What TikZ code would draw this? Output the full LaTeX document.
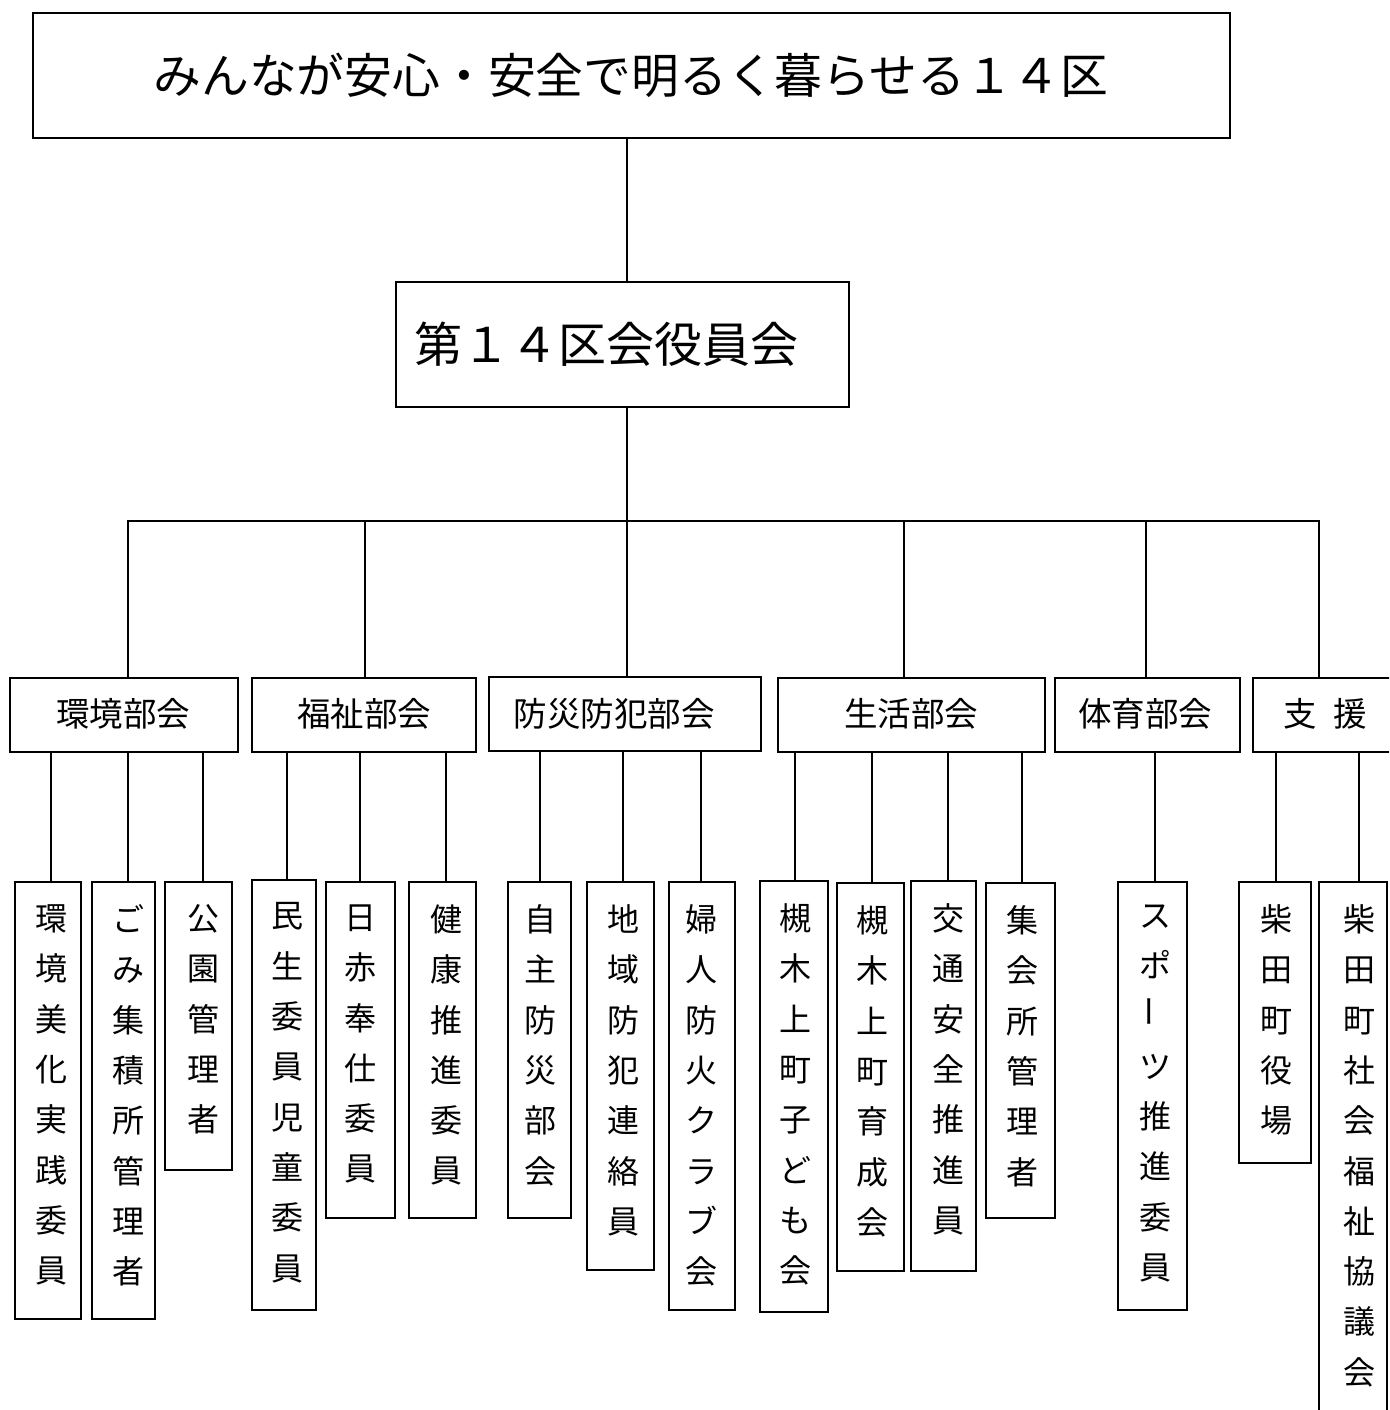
\documentclass[tikz,border=0pt]{standalone}
\usepackage{graphicx}
\usepackage{fontspec}
\setmainfont{Noto Sans CJK JP}
\tikzset{
  ln/.style={line width=2pt},
  bx/.style={draw, line width=2pt, inner sep=0pt, rectangle},
  vt/.style={inner sep=0pt, align=center, anchor=north, font=\fontsize{32pt}{50.3pt}\selectfont},
  dt/.style={inner sep=0pt, font=\fontsize{33.5pt}{40pt}\selectfont},
}
\newcommand\mkbox[5]{\node[bx, minimum width={(#4)-(#2)}, minimum height={(#5)-(#3)}] (#1) at ({((#2)+(#4))/2},{((#3)+(#5))/2}) {};}
\newcommand\mkleaf[7]{\mkbox{#1}{#2}{#3}{#4}{#5}\node[vt] (#1t) at (#6,{#3+22.5}) {#7};}
\newcommand\conn[3]{\draw[ln] (#1.south -| #3,0) -- (#2.north -| #3,0);}
\begin{document}
\begin{tikzpicture}[x=1pt,y=-1pt]
\useasboundingbox (0,0) rectangle (1389,1410);
\fill[white] (0,0) rectangle (1389,1410);
\clip (0,0) rectangle (1389,1410);

% top boxes
\mkbox{title}{33}{13}{1230}{138}
\node[font=\fontsize{47.8pt}{52pt}\selectfont, inner sep=0pt] (titlet) at (631,75) {みんなが安心・安全で明るく暮らせる１４区};
\mkbox{yak}{396}{282}{849}{407}
\node[font=\fontsize{48pt}{52pt}\selectfont, inner sep=0pt, anchor=west] (yakt) at (414,344) {第１４区会役員会};

% departments
\mkbox{d1}{10}{678}{238}{752}
\mkbox{d2}{252}{678}{476}{752}
\mkbox{d3}{489}{677}{761}{751}
\mkbox{d4}{778}{678}{1045}{752}
\mkbox{d5}{1055}{678}{1240}{752}
\mkbox{d6}{1253}{678}{1400}{752}
\node[dt] (d1t) at (123,714) {環境部会};
\node[dt] (d2t) at (364,714) {福祉部会};
\node[dt] (d3t) at (614,714) {防災防犯部会};
\node[dt] (d4t) at (911,714) {生活部会};
\node[dt] (d5t) at (1145,714) {体育部会};
\node[dt] (d6t) at (1325,714) {支\hspace{0.5em}援};

% tree connectors
\coordinate (hub) at (627,521);
\draw[ln] (title.south -| 627,0) -- (yak.north -| 627,0);
\draw[ln] (yak.south -| 627,0) -- (hub);
\foreach \d/\x in {d1/128,d2/365,d3/627,d4/904,d5/1146,d6/1319}
  \draw[ln] (hub) -| (\d.north -| \x,0);

% leaves
\mkleaf{l1}{15}{882}{81}{1319}{51}{環\\境\\美\\化\\実\\践\\委\\員}
\mkleaf{l2}{92}{882}{155}{1319}{128}{ご\\み\\集\\積\\所\\管\\理\\者}
\mkleaf{l3}{165}{882}{232}{1170}{203}{公\\園\\管\\理\\者}
\mkleaf{l4}{252}{880}{316}{1310}{287}{民\\生\\委\\員\\児\\童\\委\\員}
\mkleaf{l5}{326}{882}{395}{1218}{360}{日\\赤\\奉\\仕\\委\\員}
\mkleaf{l6}{409}{882}{476}{1218}{446}{健\\康\\推\\進\\委\\員}
\mkleaf{l7}{508}{882}{571}{1218}{540}{自\\主\\防\\災\\部\\会}
\mkleaf{l8}{587}{882}{654}{1270}{623}{地\\域\\防\\犯\\連\\絡\\員}
\mkleaf{l9}{669}{882}{735}{1310}{701}{婦\\人\\防\\火\\ク\\ラ\\ブ\\会}
\mkleaf{l10}{760}{881}{828}{1312}{795}{槻\\木\\上\\町\\子\\ど\\も\\会}
\mkleaf{l11}{837}{883}{904}{1271}{872}{槻\\木\\上\\町\\育\\成\\会}
\mkleaf{l12}{911}{881}{976}{1271}{948}{交\\通\\安\\全\\推\\進\\員}
\mkleaf{l13}{986}{883}{1055}{1218}{1022}{集\\会\\所\\管\\理\\者}
\mkleaf{l14}{1118}{882}{1187}{1310}{1155}{ス\\ポ\\\rotatebox{90}{ー}\\ツ\\推\\進\\委\\員}
\mkleaf{l15}{1239}{882}{1311}{1163}{1276}{柴\\田\\町\\役\\場}
\mkleaf{l16}{1319}{882}{1387}{1430}{1359}{柴\\田\\町\\社\\会\\福\\祉\\協\\議\\会}

% department to leaf connectors
\conn{d1}{l1}{51}
\conn{d1}{l2}{128}
\conn{d1}{l3}{203}
\conn{d2}{l4}{287}
\conn{d2}{l5}{360}
\conn{d2}{l6}{446}
\conn{d3}{l7}{540}
\conn{d3}{l8}{623}
\conn{d3}{l9}{701}
\conn{d4}{l10}{795}
\conn{d4}{l11}{872}
\conn{d4}{l12}{948}
\conn{d4}{l13}{1022}
\conn{d5}{l14}{1155}
\conn{d6}{l15}{1276}
\conn{d6}{l16}{1359}
\end{tikzpicture}
\end{document}
